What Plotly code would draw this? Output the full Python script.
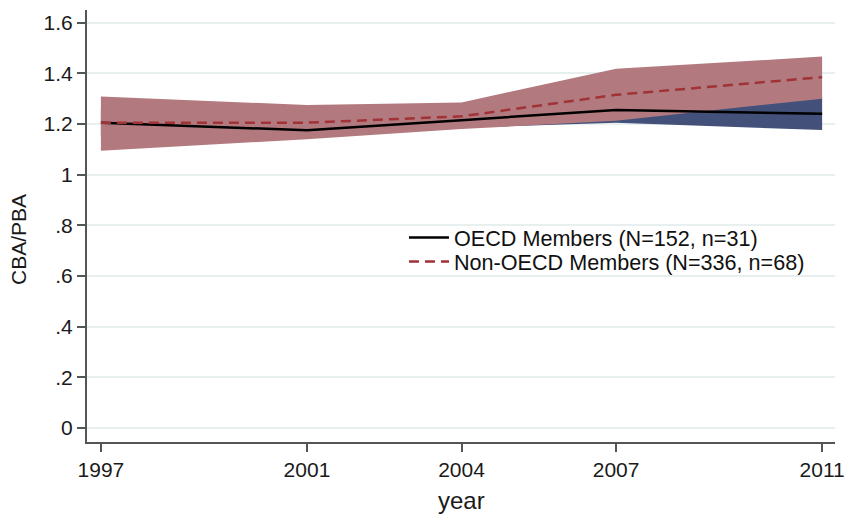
import plotly.graph_objects as go

years = [1997, 2001, 2004, 2007, 2011]
oecd_mean = [1.205, 1.175, 1.215, 1.255, 1.240]
oecd_lo = [1.150, 1.145, 1.185, 1.205, 1.176]
oecd_hi = [1.260, 1.220, 1.250, 1.300, 1.305]
non_mean = [1.205, 1.205, 1.230, 1.315, 1.385]
non_lo = [1.094, 1.140, 1.180, 1.213, 1.300]
non_hi = [1.308, 1.275, 1.285, 1.418, 1.466]

ytick_vals = [0, 0.2, 0.4, 0.6, 0.8, 1.0, 1.2, 1.4, 1.6]
ytick_text = ["0", ".2", ".4", ".6", ".8", "1", "1.2", "1.4", "1.6"]
xtick_vals = years

fig = go.Figure()
fig.add_trace(go.Scatter(x=years + years[::-1], y=oecd_hi + oecd_lo[::-1], fill="toself",
                         fillcolor="rgb(66,80,122)", line=dict(width=0), mode="lines",
                         showlegend=False, hoverinfo="skip"))
fig.add_trace(go.Scatter(x=years + years[::-1], y=non_hi + non_lo[::-1], fill="toself",
                         fillcolor="rgb(178,122,127)", line=dict(width=0), mode="lines",
                         showlegend=False, hoverinfo="skip"))
fig.add_trace(go.Scatter(x=years, y=oecd_mean, mode="lines", name="OECD Members (N=152, n=31)",
                         line=dict(color="black", width=2.5), legend="legend"))
fig.add_trace(go.Scatter(x=years, y=non_mean, mode="lines", name="Non-OECD Members (N=336, n=68)",
                         line=dict(color="rgb(160,50,56)", width=2.5, dash="10px,6px"),
                         legend="legend2"))

font = "Liberation Sans, Arial, sans-serif"
pw = 845 - 87 - 10
ph = 517 - 10 - 75


def px(x):
    return (x - 87) / pw


def py(y):
    return (517 - 75 - y) / ph


leg_common = dict(xanchor="left", yanchor="middle", bgcolor="rgba(255,255,255,0)",
                  font=dict(size=21.6, color="#111"), itemwidth=40)

fig.update_layout(
    width=845, height=517,
    margin=dict(l=87, r=10, t=10, b=75, autoexpand=False),
    paper_bgcolor="white", plot_bgcolor="white",
    font=dict(family=font, size=21, color="#1a1a1a"),
    showlegend=True,
    legend=dict(x=px(404), y=py(238), **leg_common),
    legend2=dict(x=px(404), y=py(262), **leg_common),
    xaxis=dict(range=[1996.73, 2011.25], tickvals=xtick_vals, ticktext=[str(v) for v in xtick_vals],
               showgrid=False, zeroline=False, showline=True, linecolor="#555", linewidth=2,
               ticks="outside", ticklen=8, tickwidth=1.5, tickcolor="#555", automargin=False),
    yaxis=dict(range=[-0.056, 1.65], tickvals=ytick_vals, ticktext=ytick_text,
               showgrid=True, gridcolor="#e7efef", gridwidth=2, zeroline=False,
               showline=True, linecolor="#555", linewidth=2,
               ticks="outside", ticklen=8, tickwidth=1.5, tickcolor="#555", automargin=False),
    annotations=[
        dict(text="year", x=px(461), y=py(500), xref="paper", yref="paper", showarrow=False,
             xanchor="center", yanchor="middle", font=dict(size=24, color="#1a1a1a")),
        dict(text="CBA/PBA", x=px(18), y=py(240), xref="paper", yref="paper", showarrow=False,
             xanchor="center", yanchor="middle",
             textangle=-90, font=dict(size=21, color="#1a1a1a")),
    ],
)
fig.write_html("out.html")
